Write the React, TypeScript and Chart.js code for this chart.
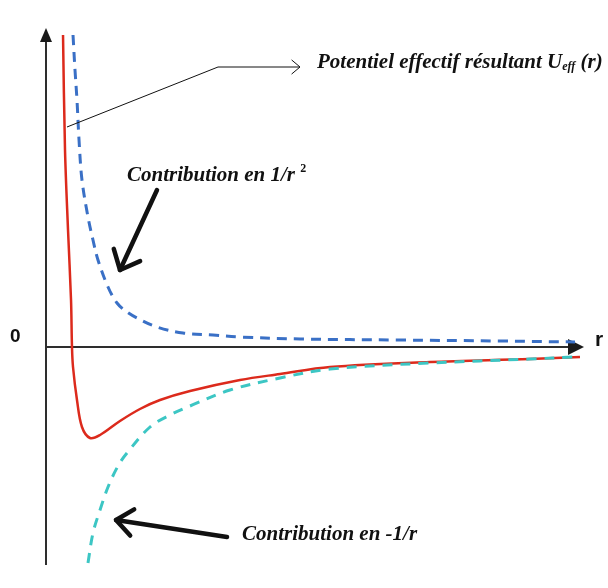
import React, { useEffect, useRef } from "react";
import { Chart, registerables } from "chart.js";

Chart.register(...registerables);

// ---- Data (r in arbitrary units, U in arbitrary units) ----
const R_UEFF = [0.317, 0.354, 0.41, 0.466, 0.484, 0.503, 0.577, 0.67, 0.819, 1.006, 1.378, 1.75, 2.123, 2.682, 3.613, 4.358, 5.289, 7.151, 9.013, 9.944];
const U_EFF = [3.12, 1.97, 1.17, 0.47, 0.0, -0.2, -0.53, -0.8, -0.91, -0.88, -0.74, -0.62, -0.53, -0.44, -0.33, -0.27, -0.2, -0.15, -0.12, -0.1];

const R_INV_SQ = [0.503, 0.54, 0.577, 0.615, 0.67, 0.782, 0.875, 0.968, 1.155, 1.322, 1.508, 1.695, 2.067, 2.551, 3.11, 3.613, 4.73, 6.592, 8.454, 9.851];
const U_INV_SQ = [3.12, 2.77, 2.47, 2.07, 1.67, 1.3, 1.07, 0.87, 0.6, 0.44, 0.35, 0.29, 0.2, 0.14, 0.12, 0.1, 0.08, 0.07, 0.06, 0.05];

const R_INV = [0.782, 0.875, 1.006, 1.155, 1.341, 1.508, 1.937, 2.309, 2.682, 3.426, 4.358, 5.289, 7.151, 9.013, 9.851];
const U_INV = [-2.16, -1.86, -1.63, -1.4, -1.19, -1.06, -0.8, -0.68, -0.59, -0.43, -0.31, -0.22, -0.16, -0.12, -0.1];

const X_MIN = 0;
const X_MAX = 10;
const Y_MIN = -2.18;
const Y_MAX = 3.17;

const LABEL_ZERO = "0";
const LABEL_R = "r";
const TEXT_UEFF = "Potentiel effectif résultant U";
const TEXT_UEFF_SUB = "eff";
const TEXT_UEFF_END = " (r)";
const TEXT_INV_SQ = "Contribution en 1/r";
const TEXT_INV_SQ_SUP = "2";
const TEXT_INV = "Contribution en -1/r";

const toPoints = (xs: number[], ys: number[]) => xs.map((x, i) => ({ x, y: ys[i] }));

const SERIF = '"Liberation Serif", "Times New Roman", serif';
const SANS = '"Liberation Sans", Arial, sans-serif';

function drawHead(ctx: CanvasRenderingContext2D, tx: number, ty: number, fx: number, fy: number, len: number, spread: number) {
  const ang = Math.atan2(fy - ty, fx - tx);
  ctx.beginPath();
  ctx.moveTo(tx + len * Math.cos(ang - spread), ty + len * Math.sin(ang - spread));
  ctx.lineTo(tx, ty);
  ctx.lineTo(tx + len * Math.cos(ang + spread), ty + len * Math.sin(ang + spread));
  ctx.stroke();
}

const decorPlugin = {
  id: "decor",
  beforeDatasetsDraw(chart: any) {
    const ctx: CanvasRenderingContext2D = chart.ctx;
    const xs = chart.scales.x;
    const ys = chart.scales.y;
    const area = chart.chartArea;
    const x0 = xs.getPixelForValue(0);
    const y0 = ys.getPixelForValue(0);
    ctx.save();
    ctx.strokeStyle = "#2e2e2e";
    ctx.fillStyle = "#1a1a1a";
    ctx.lineWidth = 2;
    // y axis
    ctx.beginPath();
    ctx.moveTo(x0, area.bottom);
    ctx.lineTo(x0, area.top + 8);
    ctx.stroke();
    ctx.beginPath();
    ctx.moveTo(x0, area.top - 2);
    ctx.lineTo(x0 - 6, area.top + 12);
    ctx.lineTo(x0 + 6, area.top + 12);
    ctx.closePath();
    ctx.fill();
    // x axis
    ctx.beginPath();
    ctx.moveTo(x0, y0);
    ctx.lineTo(area.right - 6, y0);
    ctx.stroke();
    ctx.beginPath();
    ctx.moveTo(area.right + 1, y0);
    ctx.lineTo(area.right - 15, y0 - 8);
    ctx.lineTo(area.right - 15, y0 + 8);
    ctx.closePath();
    ctx.fill();
    // labels
    ctx.fillStyle = "#111";
    ctx.font = `bold 19px ${SANS}`;
    ctx.textBaseline = "alphabetic";
    ctx.textAlign = "left";
    ctx.fillText(LABEL_ZERO, x0 - 36, y0 - 5);
    ctx.font = `bold 21px ${SANS}`;
    ctx.fillText(LABEL_R, area.right + 12, y0 - 1);
    ctx.restore();
  },
  afterDatasetsDraw(chart: any) {
    const ctx: CanvasRenderingContext2D = chart.ctx;
    const xs = chart.scales.x;
    const ys = chart.scales.y;
    const P = (r: number, u: number) => [xs.getPixelForValue(r), ys.getPixelForValue(u)];
    ctx.save();
    ctx.fillStyle = "#111";
    ctx.strokeStyle = "#111";
    ctx.textBaseline = "alphabetic";
    ctx.textAlign = "left";

    // leader line to U_eff
    const [a1x, a1y] = P(0.391, 2.2);
    const [a2x, a2y] = P(3.203, 2.8);
    const [a3x, a3y] = P(4.73, 2.8);
    ctx.lineWidth = 1;
    ctx.beginPath();
    ctx.moveTo(a1x, a1y);
    ctx.lineTo(a2x, a2y);
    ctx.lineTo(a3x, a3y);
    ctx.stroke();
    drawHead(ctx, a3x, a3y, a2x, a2y, 11, 0.7);

    // U_eff text
    const [tx, ty] = P(5.047, 2.79);
    ctx.font = `italic bold 21px ${SERIF}`;
    ctx.fillText(TEXT_UEFF, tx, ty);
    let w = ctx.measureText(TEXT_UEFF).width;
    ctx.font = `italic bold 12px ${SERIF}`;
    ctx.fillText(TEXT_UEFF_SUB, tx + w, ty + 2);
    w += ctx.measureText(TEXT_UEFF_SUB).width;
    ctx.font = `italic bold 21px ${SERIF}`;
    ctx.fillText(TEXT_UEFF_END, tx + w, ty);

    // 1/r^2 text
    const [bx, by] = P(1.508, 1.66);
    ctx.font = `italic bold 21px ${SERIF}`;
    ctx.fillText(TEXT_INV_SQ, bx, by);
    const bw = ctx.measureText(TEXT_INV_SQ + " ").width;
    ctx.font = `bold 12px ${SERIF}`;
    ctx.fillText(TEXT_INV_SQ_SUP, bx + bw, by - 9);

    // thick arrow 1
    ctx.lineWidth = 4.5;
    ctx.lineCap = "round";
    ctx.lineJoin = "round";
    const [f1x, f1y] = P(2.067, 1.57);
    const [t1x, t1y] = P(1.378, 0.77);
    ctx.beginPath();
    ctx.moveTo(f1x, f1y);
    ctx.lineTo(t1x, t1y);
    ctx.stroke();
    drawHead(ctx, t1x, t1y, f1x, f1y, 22, 0.72);

    // -1/r text
    const [cx, cy] = P(3.65, -1.93);
    ctx.font = `italic bold 21px ${SERIF}`;
    ctx.fillText(TEXT_INV, cx, cy);

    // thick arrow 2
    const [f2x, f2y] = P(3.371, -1.9);
    const [t2x, t2y] = P(1.304, -1.73);
    ctx.beginPath();
    ctx.moveTo(f2x, f2y);
    ctx.lineTo(t2x, t2y);
    ctx.stroke();
    drawHead(ctx, t2x, t2y, f2x, f2y, 21, 0.68);

    ctx.restore();
  },
};

export default function App() {
  const canvasRef = useRef<HTMLCanvasElement | null>(null);

  useEffect(() => {
    if (!canvasRef.current) return;
    const chart = new Chart(canvasRef.current, {
      type: "line",
      data: {
        datasets: [
          {
            label: "-1/r",
            data: toPoints(R_INV, U_INV),
            borderColor: "#3cc6c4",
            borderWidth: 3,
            borderDash: [10, 8],
            pointRadius: 0,
            fill: false,
            tension: 0.35,
          },
          {
            label: "1/r²",
            data: toPoints(R_INV_SQ, U_INV_SQ),
            borderColor: "#3a70c6",
            borderWidth: 3,
            borderDash: [10, 7],
            pointRadius: 0,
            fill: false,
            tension: 0.35,
          },
          {
            label: "Ueff",
            data: toPoints(R_UEFF, U_EFF),
            borderColor: "#dc2a1c",
            borderWidth: 2.5,
            pointRadius: 0,
            fill: false,
            tension: 0.35,
          },
        ],
      },
      options: {
        animation: false,
        responsive: true,
        maintainAspectRatio: false,
        layout: { padding: { left: 46, right: 25, top: 30, bottom: 23 } },
        plugins: { legend: { display: false }, tooltip: { enabled: false } },
        scales: {
          x: { type: "linear", min: X_MIN, max: X_MAX, display: false },
          y: { type: "linear", min: Y_MIN, max: Y_MAX, display: false },
        },
      },
      plugins: [decorPlugin],
    } as any);
    return () => chart.destroy();
  }, []);

  return (
    <div style={{ position: "fixed", left: 0, top: 0, width: 608, height: 588, background: "#fff" }}>
      <canvas ref={canvasRef} />
    </div>
  );
}
